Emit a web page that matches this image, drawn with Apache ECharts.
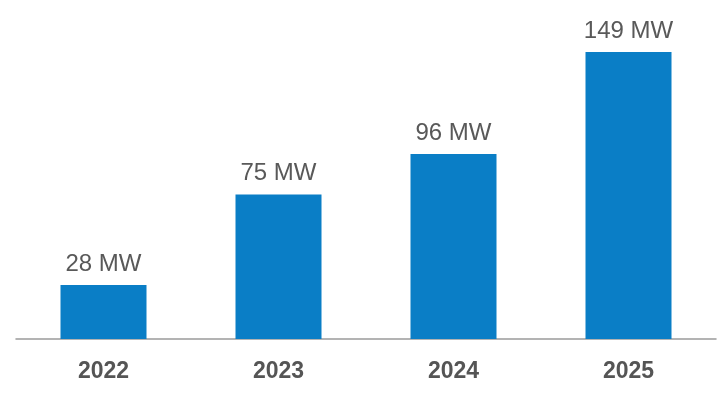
<!DOCTYPE html>
<html>
<head>
<meta charset="utf-8">
<script src="https://cdn.jsdelivr.net/npm/echarts@6/dist/echarts.min.js"></script>
<style>html,body{margin:0;padding:0;background:#fff;}#c{width:719px;height:393px;}</style>
</head>
<body>
<div id="c"></div>
<script>
var categories = ['2022', '2023', '2024', '2025'];
var values = [28, 75, 96, 149];
var unit = ' MW';

var chart = echarts.init(document.getElementById('c'));
chart.setOption({
  animation: false,
  grid: { left: 16, right: 3, top: 52, bottom: 54 },
  xAxis: {
    type: 'category',
    data: categories,
    axisLine: { lineStyle: { color: '#9a9a9a', width: 1.5 } },
    axisTick: { show: false },
    axisLabel: { color: '#555555', fontWeight: 'bold', fontSize: 23, fontFamily: 'Liberation Sans, Arial, sans-serif', margin: 21 }
  },
  yAxis: {
    type: 'value', min: 0, max: 149,
    show: false,
    splitLine: { show: false }
  },
  series: [{
    type: 'bar',
    data: values,
    barWidth: 86,
    itemStyle: { color: '#0a7ec6' },
    label: {
      show: true, position: 'top', distance: 9,
      color: '#595959', fontSize: 24, fontFamily: 'Liberation Sans, Arial, sans-serif',
      formatter: function (p) { return p.value + unit; }
    }
  }]
});
</script>
</body>
</html>
